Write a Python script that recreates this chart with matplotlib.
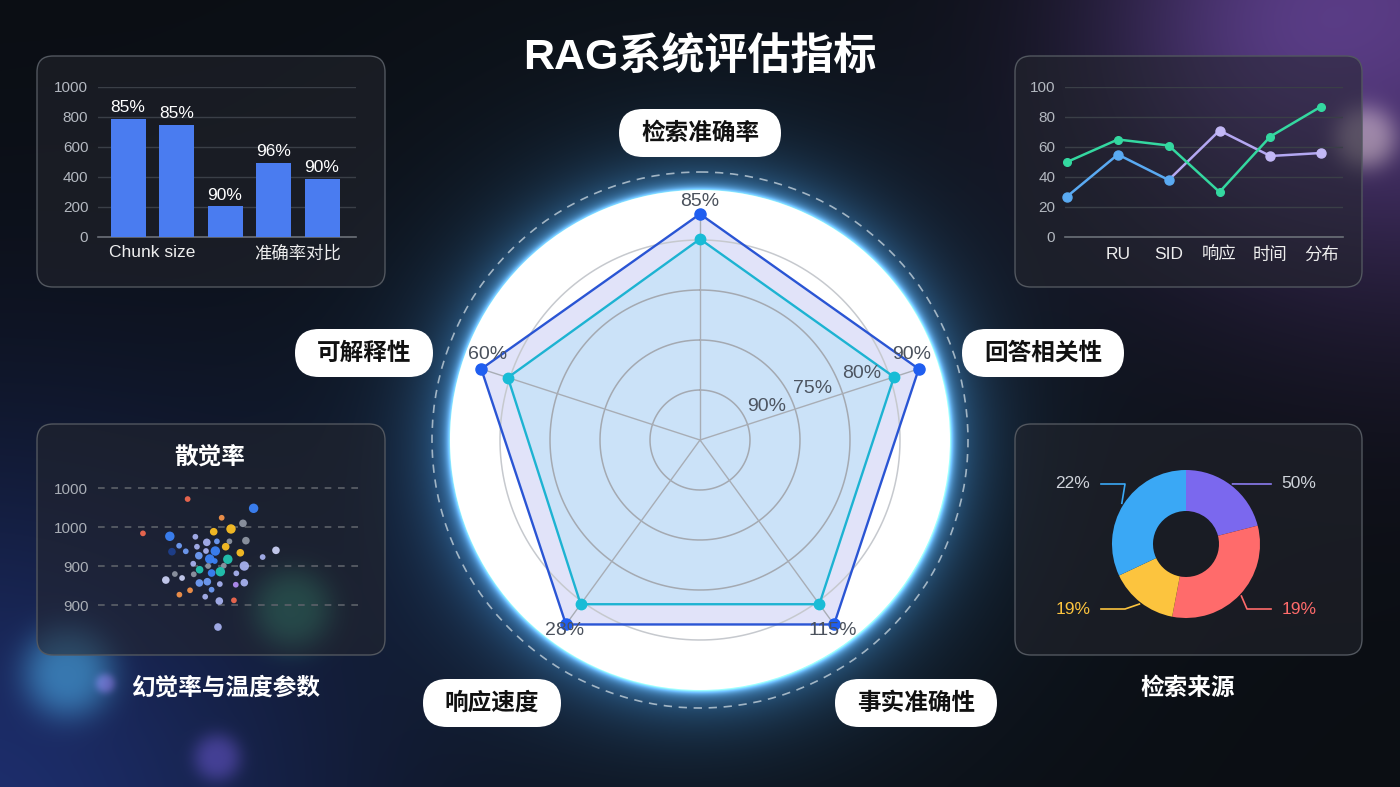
import numpy as np
import matplotlib
matplotlib.use("Agg")
import matplotlib.pyplot as plt
from matplotlib.patches import FancyBboxPatch, Circle

plt.rcParams["font.family"] = ["Liberation Sans", "Noto Sans CJK SC", "DejaVu Sans"]

W, H = 1400, 787

# ---------------- data ----------------
TITLE = "RAG系统评估指标"

bar_values = [790, 745, 205, 495, 390]
bar_labels = ["85%", "85%", "90%", "96%", "90%"]
bar_yticks = [0, 200, 400, 600, 800, 1000]
bar_xlabels = ["Chunk size", "准确率对比"]

line_xlabels = ["", "RU", "SID", "响应", "时间", "分布"]
line_green = [50, 65, 61, 30, 67, 87]
line_blue = [27, 55, 38, 71, 54, 56]
line_yticks = [0, 20, 40, 60, 80, 100]

radar_axes = ["检索准确率", "回答相关性", "事实准确性", "响应速度", "可解释性"]
radar_outer = [113, 115, 114, 114, 115]
radar_inner = [100.5, 102, 101.5, 101.5, 101]
radar_value_labels = ["85%", "90%", "115%", "28%", "60%"]
radar_rings = [25, 50, 75, 100]
radar_ring_labels = ["90%", "75%", "80%"]

scatter_title = "散觉率"
scatter_caption = "幻觉率与温度参数"
scatter_temp = [33.7, 58.5, 46.5, 54.5, 50.0, 43.5, 16.9, 27.0, 36.6, 44.7,
                40.9, 49.4, 55.6, 30.5, 37.2, 48.0, 33.0, 27.8, 40.6, 44.1,
                53.5, 66.9, 61.9, 37.9, 42.0, 48.8, 43.9, 35.8, 55.0, 38.2,
                41.4, 47.3, 46.0, 42.7, 52.0, 36.0, 28.9, 31.6, 25.5, 38.1,
                41.1, 45.8, 51.8, 55.0, 34.6, 30.6, 42.7, 40.3, 45.6, 51.1,
                45.1]
scatter_rate = [968.7, 959.2, 949.5, 943.8, 938.0, 935.2, 933.5, 930.5, 930.0, 925.3,
                924.3, 925.3, 926.0, 920.8, 919.8, 919.8, 915.1, 914.7, 915.4, 915.4,
                913.6, 916.1, 909.2, 910.6, 907.2, 906.9, 905.1, 902.4, 900.0, 896.2,
                900.0, 900.3, 894.2, 892.8, 892.5, 891.5, 891.8, 887.7, 885.6, 882.6,
                883.9, 881.5, 880.8, 882.9, 875.1, 870.6, 875.7, 868.5, 864.1, 864.8,
                837.4]
scatter_group = list("RBOGYYRBVLVGGLVYLDVBYWVLBTBVVTGGTBVGGWWLLVPVOOLVVRV")
scatter_weight = [1, 3, 1, 2, 3, 2, 1, 3, 1, 1,
                  2, 1, 2, 1, 1, 2, 1, 2, 1, 3,
                  2, 2, 1, 2, 3, 3, 1, 1, 3, 2,
                  1, 1, 3, 2, 1, 1, 1, 1, 2, 2,
                  2, 1, 1, 2, 1, 1, 1, 1, 2, 1,
                  2]
scatter_yticks = [860, 900, 940, 980]
scatter_yticklabels = ["900", "900", "1000", "1000"]

donut_caption = "检索来源"
donut_values = [21, 32, 15, 32]
donut_labels = ["50%", "19%", "19%", "22%"]

# ---------------- styles ----------------
GROUP_COLORS = {"R": "#f0684f", "O": "#f4934a", "B": "#3b82f6", "L": "#6f9cf4",
                "V": "#a6b0ee", "G": "#8e95a2", "Y": "#fbbf24", "T": "#22c4b0",
                "P": "#b08cf2", "W": "#c9cff3", "D": "#1e3f8c"}
WEIGHT_SIZE = {1: 17, 2: 30, 3: 46}
DONUT_COLORS = ["#7b68ee", "#ff6b6b", "#fcc43e", "#3aa8f5"]
DONUT_TEXT = ["#cfd3da", "#ff6b6b", "#fcc43e", "#cfd3da"]
DONUT_LINE = ["#8b7cf0", "#ff6b6b", "#fcc43e", "#3aa8f5"]
TICK_COL = "#b3b8c0"
GRID_COL = "#3a3f47"


def px_rect(x0, y0, x1, y1):
    return [x0 / W, 1 - y1 / H, (x1 - x0) / W, (y1 - y0) / H]


fig = plt.figure(figsize=(14, 7.87), dpi=100)

# ---------------- background ----------------
bg = fig.add_axes([0, 0, 1, 1])
bg.set_xlim(0, W)
bg.set_ylim(H, 0)
bg.axis("off")

yy, xx = np.mgrid[0:H, 0:W].astype(float)
img = np.zeros((H, W, 3))
img[:] = np.array([11, 14, 19]) / 255.0


def glow(cx, cy, r, color, power=2.0):
    d = np.hypot(xx - cx, yy - cy) / r
    return np.exp(-d ** power)[..., None] * (np.array(color) / 255.0)


img += glow(1430, -10, 300, (70, 40, 100))
img += glow(1250, 40, 150, (22, 14, 34))
img += glow(-40, 840, 400, (18, 32, 90))
img += glow(68, 672, 46, (30, 80, 85), 3)
img += glow(292, 608, 40, (22, 85, 48), 3)
img += glow(217, 757, 24, (45, 28, 70), 3)
img += glow(105, 683, 10, (60, 28, 60), 3)
img += glow(1365, 137, 32, (85, 85, 60), 3)

# halo around the radar disc
d = np.hypot(xx - 700, yy - 440)
out = np.clip(d - 250, 0, None)
ring = (d > 246)[..., None]
img += ring * np.exp(-out / 4.0)[..., None] * (np.array([110, 150, 175]) / 255.0)
img += ring * np.exp(-out / 30.0)[..., None] * (np.array([30, 75, 108]) / 255.0)
img += ring * np.exp(-out / 120.0)[..., None] * (np.array([8, 20, 32]) / 255.0)
img = np.clip(img, 0, 1)
bg.imshow(img, extent=(0, W, H, 0), zorder=0, interpolation="bilinear")

bg.add_patch(Circle((700, 440), 268, fill=False, ec="#b8c8d4", lw=1.2,
                    ls=(0, (5, 4)), alpha=0.85, zorder=1))

# panels
for (x0, y0, x1, y1) in [(37, 56, 385, 287), (1015, 56, 1362, 287),
                         (37, 424, 385, 655), (1015, 424, 1362, 655)]:
    bg.add_patch(FancyBboxPatch((x0, y0), x1 - x0, y1 - y0,
                                boxstyle="round,pad=0,rounding_size=16",
                                fc=(0.14, 0.15, 0.18, 0.55), ec="#52575f", lw=1.0,
                                zorder=2))

bg.text(700, 57, TITLE, ha="center", va="center", fontsize=31,
        fontweight="bold", color="white", zorder=5)
bg.text(226, 688, scatter_caption, ha="center", va="center", fontsize=17,
        fontweight="bold", color="white", zorder=5)
bg.text(1188, 688, donut_caption, ha="center", va="center", fontsize=17,
        fontweight="bold", color="white", zorder=5)
bg.text(210, 457, scatter_title, ha="center", va="center", fontsize=17,
        fontweight="bold", color="white", zorder=5)

# radar axis pills
pill_pos = [(700, 133), (1043, 353), (916, 703), (492, 703), (364, 353)]
for (cx, cy), name in zip(pill_pos, radar_axes):
    w = 42 + 24 * len(name)
    bg.add_patch(FancyBboxPatch((cx - w / 2, cy - 24), w, 48,
                                boxstyle="round,pad=0,rounding_size=24",
                                fc="white", ec="none", zorder=4))
    bg.text(cx, cy, name, ha="center", va="center", fontsize=17,
            fontweight="bold", color="#111111", zorder=5)

# ---------------- bar chart ----------------
ax = fig.add_axes(px_rect(98, 87, 356, 237))
ax.set_facecolor("none")
xb = np.arange(len(bar_values))
ax.bar(xb, bar_values, width=0.72, color="#4a7cf0", zorder=3)
for i, (v, lab) in enumerate(zip(bar_values, bar_labels)):
    ax.text(i, v + 25, lab, ha="center", va="bottom", color="white", fontsize=12.5)
ax.set_xlim(-0.62, 4.70)
ax.set_ylim(0, 1000)
ax.set_yticks(bar_yticks)
ax.yaxis.grid(True, color=GRID_COL, lw=1)
ax.set_axisbelow(True)
ax.set_xticks([0.5, 3.5])
ax.set_xticklabels(bar_xlabels)
ax.tick_params(axis="y", length=0, pad=7, labelcolor=TICK_COL, labelsize=11)
ax.tick_params(axis="x", length=0, pad=6, labelcolor="#eeeeee", labelsize=12.5)
for s in ["top", "right", "left"]:
    ax.spines[s].set_visible(False)
ax.spines["bottom"].set_color("#6b7078")
ax.spines["bottom"].set_linewidth(1.2)

# ---------------- line chart ----------------
ax = fig.add_axes(px_rect(1065, 87, 1343, 237))
ax.set_facecolor("none")
xl = np.arange(len(line_green))
ax.plot(xl[2:], line_blue[2:], color="#b4a8f2", lw=1.8, zorder=3, clip_on=False)
ax.plot(xl[3:], line_blue[3:], "o", color="#c3b8f6", ms=6.5, zorder=4, clip_on=False)
ax.plot(xl[:3], line_blue[:3], color="#5aaaf2", lw=1.8, marker="o", ms=6.5,
        zorder=4, clip_on=False)
ax.plot(xl, line_green, color="#34d8a0", lw=1.8, marker="o", ms=5.5,
        zorder=5, clip_on=False)
ax.set_xlim(-0.04, 5.43)
ax.set_ylim(0, 100)
ax.set_yticks(line_yticks)
ax.yaxis.grid(True, color=GRID_COL, lw=1)
ax.set_axisbelow(True)
ax.set_xticks(xl)
ax.set_xticklabels(line_xlabels)
ax.tick_params(axis="y", length=0, pad=7, labelcolor=TICK_COL, labelsize=11)
ax.tick_params(axis="x", length=0, pad=7, labelcolor="#eeeeee", labelsize=12.5)
for s in ["top", "right", "left"]:
    ax.spines[s].set_visible(False)
ax.spines["bottom"].set_color("#6b7078")
ax.spines["bottom"].set_linewidth(1.2)

# ---------------- scatter ----------------
ax = fig.add_axes(px_rect(98, 470, 364, 640))
ax.set_facecolor("none")
ax.scatter(scatter_temp, scatter_rate,
           c=[GROUP_COLORS[g] for g in scatter_group],
           s=[WEIGHT_SIZE[w] for w in scatter_weight],
           linewidths=0, zorder=3, alpha=0.95)
ax.set_xlim(0, 100)
ax.set_ylim(824.1, 998.5)
ax.set_yticks(scatter_yticks)
ax.set_yticklabels(scatter_yticklabels)
ax.set_xticks([])
ax.yaxis.grid(True, color="#5c6169", lw=1.2, ls=(0, (4, 4)))
ax.set_axisbelow(True)
ax.tick_params(axis="y", length=0, pad=7, labelcolor="#a9aeb6", labelsize=11)
for s in ax.spines.values():
    s.set_visible(False)

# ---------------- donut ----------------
ax = fig.add_axes(px_rect(1015, 424, 1362, 655))
ax.set_facecolor("none")
wedges, _ = ax.pie(donut_values, colors=DONUT_COLORS, startangle=90,
                   counterclock=False, radius=74, center=(0, 0), frame=True,
                   wedgeprops=dict(width=41, edgecolor="none"))
ax.set_xlim(-171, 176)
ax.set_ylim(-111, 120)
ax.axis("off")
for wdg, lab, tc, lc in zip(wedges, donut_labels, DONUT_TEXT, DONUT_LINE):
    mid = np.deg2rad((wdg.theta1 + wdg.theta2) / 2)
    sx, sy = 76 * np.cos(mid), 76 * np.sin(mid)
    side = 1 if sx > 0 else -1
    ly = 60 if sy > 0 else -65
    ax.plot([sx, side * 61, side * 85], [sy, ly, ly], color=lc, lw=1.2,
            clip_on=False)
    ax.text(side * 113, ly, lab, ha="center", va="center", color=tc,
            fontsize=12.5)

# ---------------- radar ----------------
rax = fig.add_axes(px_rect(450, 190, 950, 690), projection="polar")
rax.set_theta_offset(np.pi / 2)
rax.set_theta_direction(-1)
rax.set_facecolor("white")
rax.grid(False)
rax.set_xticks([])
rax.set_yticks([])
rax.spines["polar"].set_visible(False)
rax.set_ylim(0, 125)

angles = np.deg2rad(np.arange(len(radar_axes)) * 72.0)
closed = np.append(angles, angles[0])
outer_c = np.append(radar_outer, radar_outer[0])
inner_c = np.append(radar_inner, radar_inner[0])

rax.fill(closed, outer_c, color="#e1e3f9", zorder=1)
rax.fill(closed, inner_c, color="#cbe2f8", zorder=1.2)

t = np.linspace(0, 2 * np.pi, 400)
for r in radar_rings:
    col = "#c6c9ce" if r == radar_rings[-1] else "#a4a9b1"
    rax.plot(t, np.full_like(t, r), color=col, lw=1.1, zorder=2)
for a, r in zip(angles, radar_outer):
    rax.plot([a, a], [0, r], color="#a8adb5", lw=1.0, zorder=2)

rax.plot(closed, outer_c, color="#2a55d4", lw=1.7, zorder=3)
rax.plot(closed, inner_c, color="#1db3d2", lw=1.7, zorder=3)
rax.plot(angles, radar_outer, "o", color="#1f5ef0", ms=8, zorder=4)
rax.plot(angles, radar_inner, "o", color="#18bcd6", ms=7.5, zorder=4)

label_offsets = [(0, 13), (-7, 14), (-1, -6), (-1, -6), (6, 14)]
for a, r, lab, off in zip(angles, radar_outer, radar_value_labels, label_offsets):
    rax.annotate(lab, (a, r), xytext=off, textcoords="offset pixels",
                 ha="center", va="center", fontsize=14, color="#4a515c", zorder=6)

ring_label_pos = [(63.4, 37), (65.7, 62), (67.8, 87.5)]
for (th, r), lab in zip(ring_label_pos, radar_ring_labels):
    rax.text(np.deg2rad(th), r, lab, ha="center", va="center", fontsize=14,
             color="#4d5561", zorder=6)

fig.savefig("out.png", dpi=100, facecolor="black")
